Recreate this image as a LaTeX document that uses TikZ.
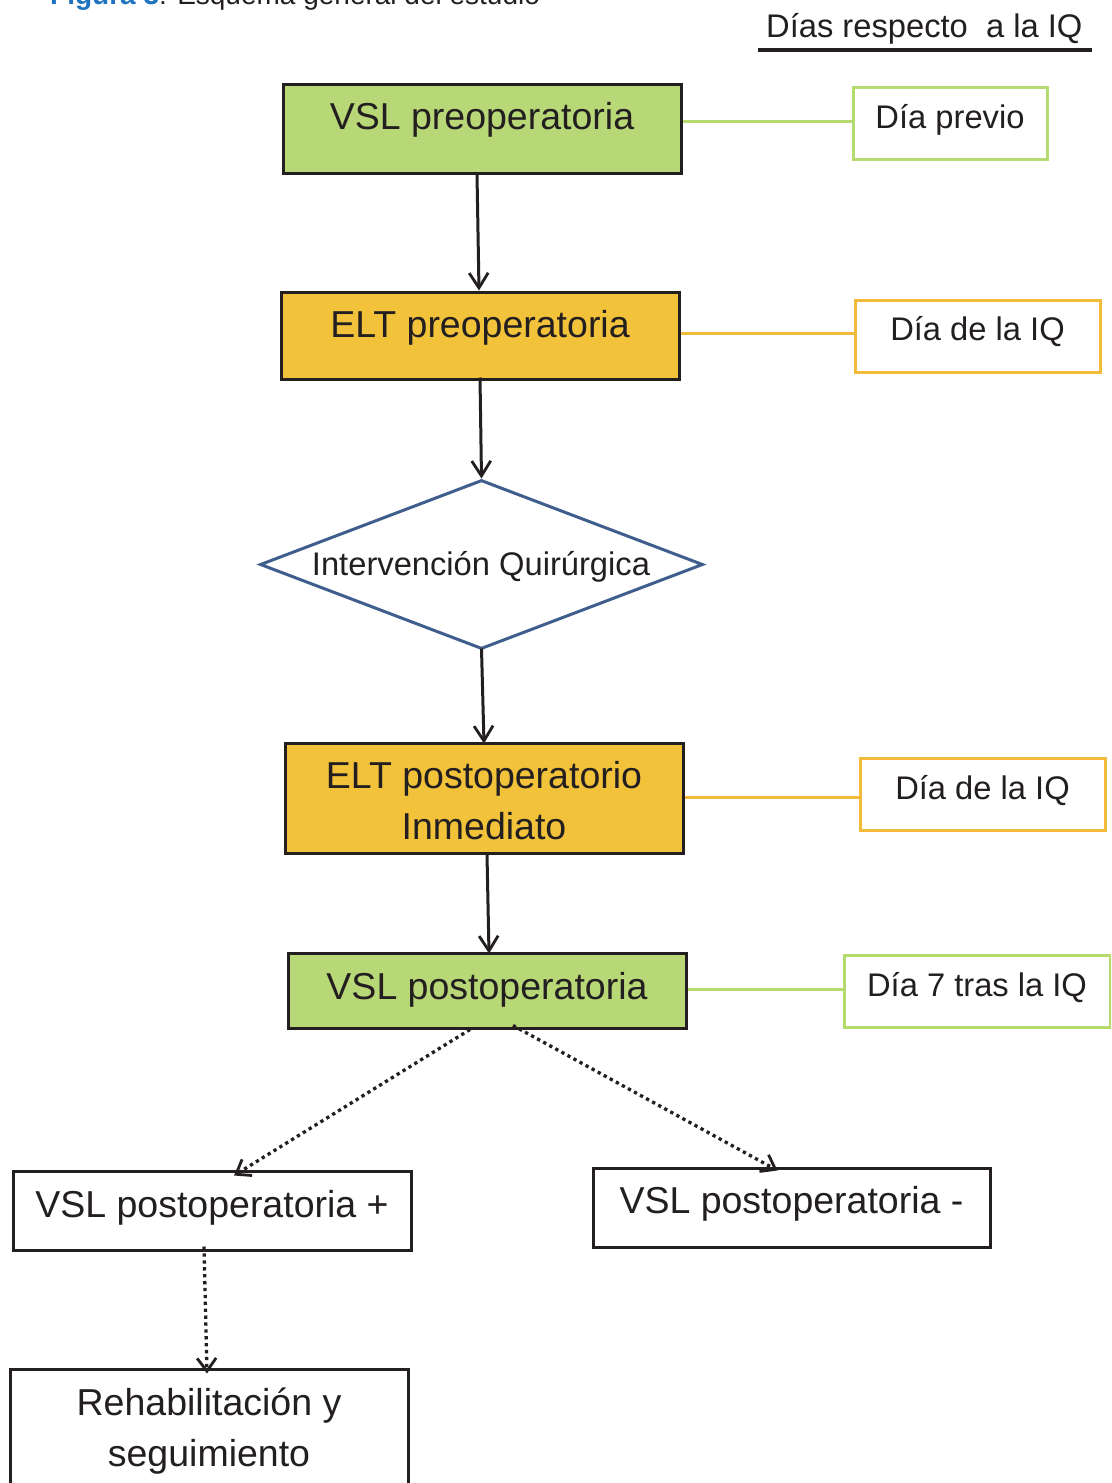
\documentclass[tikz,border=0pt]{standalone}
\usepackage{fontspec}
\setmainfont{Liberation Sans}
\usetikzlibrary{arrows.meta,shapes.geometric}
\definecolor{vgreen}{HTML}{B8D878}
\definecolor{lgreen}{HTML}{B5DA6E}
\definecolor{eorange}{HTML}{F1C23A}
\definecolor{lorange}{HTML}{F2B93B}
\definecolor{dblue}{HTML}{3F5E8E}
\definecolor{capblue}{HTML}{1F73C0}
\definecolor{ink}{HTML}{231F20}
\newcommand{\myup}[2]{\raisebox{#1}[\height][\depth]{#2}}
\begin{document}
\begin{tikzpicture}[x=1pt,y=-1pt,
  mainbox/.style={draw=ink,line width=3pt,inner sep=0pt,align=center,text=ink,font=\fontsize{37.5}{51}\selectfont},
  daybox/.style={line width=3pt,fill=white,inner sep=0pt,text=ink,font=\fontsize{32.7}{38}\selectfont},
  link/.style={line width=3pt},
  flow/.style={draw=ink,line width=3pt,-{Straight Barb[length=15pt,width=19pt,line width=2.8pt]}},
  dotflow/.style={draw=ink,line width=3.3pt,dash pattern=on 3.3pt off 3.6pt,-{Straight Barb[length=13pt,width=19pt,line width=2.8pt]}}
]
\useasboundingbox (0,0) rectangle (1111,1483);
\clip (0,0) rectangle (1111,1483);
\fill[white] (0,0) rectangle (1111,1483);

% caption (cut off at top)
\node[anchor=base west,inner sep=0pt,font=\fontsize{28}{30}\selectfont] (cap) at (50,5)
  {\textcolor{capblue}{\textbf{Figura 3}}\textcolor{ink}{: Esquema general del estudio}};

% header
\node[anchor=base west,inner sep=0pt,text=ink,font=\fontsize{32.7}{36}\selectfont] (hdr) at (766,37) {Días respecto\ \ a la IQ};
\coordinate (hl) at (758,50);
\coordinate (hr) at (1092,50);
\draw[ink,line width=4pt] (hl) -- (hr);

% main boxes
\node[mainbox,fill=vgreen,minimum width=398pt,minimum height=89pt] (v1) at (482,128.5) {\myup{9pt}{VSL preoperatoria}};
\node[mainbox,fill=eorange,minimum width=398pt,minimum height=87pt] (e1) at (480,335.5) {\myup{7.5pt}{ELT preoperatoria}};
\node[draw=dblue,line width=3pt,diamond,aspect=2.62,minimum width=443pt,minimum height=169pt,inner sep=0pt] (iq) at (481.5,564.5) {};
\node[text=ink,font=\fontsize{32.7}{38}\selectfont,inner sep=0pt] (iqt) at (481,567) {Intervención Quirúrgica};
\node[mainbox,fill=eorange,minimum width=398pt,minimum height=110pt] (e2) at (484,798) {\myup{-3pt}{\parbox{398pt}{\centering ELT postoperatorio\\Inmediato}}};
\node[mainbox,fill=vgreen,minimum width=398pt,minimum height=75pt] (v2) at (487,990.5) {\myup{1pt}{VSL postoperatoria}};
\node[mainbox,fill=white,minimum width=398pt,minimum height=79pt] (vp) at (212,1210.5) {\myup{2.5pt}{VSL postoperatoria +}};
\node[mainbox,fill=white,minimum width=397pt,minimum height=79pt] (vm) at (791.5,1207.5) {\myup{4pt}{VSL postoperatoria -}};
\node[mainbox,fill=white,minimum width=398pt,minimum height=140pt] (rh) at (209,1439) {\myup{8pt}{\parbox{398pt}{\centering Rehabilitación y\\seguimiento}}};

% day boxes
\node[daybox,draw=lgreen,minimum width=194pt,minimum height=72pt] (d1) at (950,123) {\myup{3.5pt}{Día previo}};
\node[daybox,draw=lorange,minimum width=245pt,minimum height=72pt] (d2) at (977.5,336) {\myup{4.5pt}{Día de la IQ}};
\node[daybox,draw=lorange,minimum width=245pt,minimum height=72pt] (d3) at (982.5,794) {\myup{3.5pt}{Día de la IQ}};
\node[daybox,draw=lgreen,minimum width=266pt,minimum height=72pt] (d4) at (977,991) {\myup{3pt}{Día 7 tras la IQ}};

% links to day boxes
\draw[link,lgreen] (v1.east |- 0,121) -- (d1.west |- 0,121);
\draw[link,lorange] (e1.east |- 0,333) -- (d2.west |- 0,333);
\draw[link,lorange] (e2.east |- 0,797) -- (d3.west |- 0,797);
\draw[link,lgreen] (v2.east |- 0,989) -- (d4.west |- 0,989);

% flow arrows
\draw[flow] ([xshift=-5pt]v1.south) -- ([xshift=-1pt]e1.north);
\draw[flow] ([yshift=3pt]e1.south) -- (iq.north);
\draw[flow] ([yshift=2pt]iq.south) -- ([yshift=-2pt]e2.north);
\draw[flow] ([xshift=3pt]e2.south) -- ([xshift=2pt,yshift=-2pt]v2.north);

% dotted arrows
\draw[dotflow] ([xshift=-17pt]v2.south) -- ([xshift=22pt,yshift=-6pt]vp.north);
\draw[dotflow] ([xshift=26pt,yshift=4pt]v2.south) -- ([xshift=-14pt,yshift=-4pt]vm.north);
\draw[dotflow] ([xshift=-8pt,yshift=5pt]vp.south) -- ([xshift=-2pt,yshift=-6pt]rh.north);
\end{tikzpicture}
\end{document}
